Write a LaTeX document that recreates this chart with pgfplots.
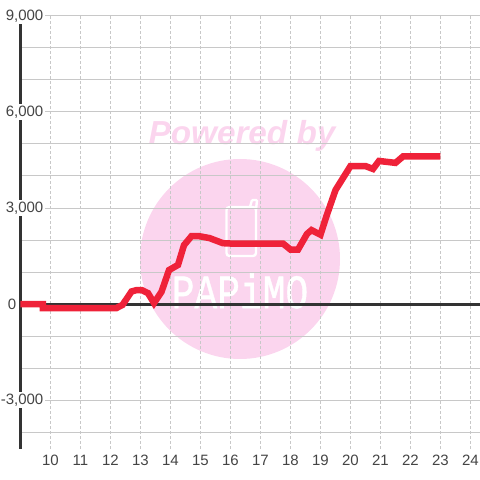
\documentclass[border=0pt]{standalone}
\usepackage{fontspec}
\setmainfont{Liberation Sans}
\newfontfamily\wmmono[FakeBold=1]{Liberation Mono}
\usepackage{pgfplots}
\pgfplotsset{compat=1.18}
\definecolor{wm}{HTML}{FBD5EE}
\definecolor{gridc}{HTML}{C8C8C8}
\definecolor{axc}{HTML}{333333}
\definecolor{labc}{HTML}{444444}
\definecolor{linec}{HTML}{EF2239}
\begin{document}
\begin{tikzpicture}
\path[use as bounding box] (0pt,0pt) rectangle (480pt,480pt);
\begin{scope}[x=1pt,y=1pt]
\fill[wm] (240,221) circle (100);
\node[text=wm,anchor=center,inner sep=0] at (242,344.5) {\fontsize{33.3}{33.3}\selectfont\bfseries\itshape Powered by};
\draw[white,line width=2.4pt,rounded corners=3pt] (226.5,273) rectangle (256,224);
\draw[white,line width=2.4pt,rounded corners=1pt] (250,273) -- (252,280) -- (257,280) -- (256,270);
\node[text=white,anchor=center,inner sep=0,xscale=0.79] at (240,189) {\wmmono\fontsize{48}{48}\selectfont PAPiMO};
\end{scope}
\begin{axis}[
  at={(20.5pt,31pt)},anchor=south west,
  scale only axis,width=459.5pt,height=433pt,
  xmin=9,xmax=24.3167,ymin=-4531,ymax=9000,
  clip=false,
  axis x line*=bottom,
  axis y line*=left,
  x axis line style={draw=none,-},
  y axis line style={axc,line width=3pt,-},
  xtick={10,...,24},
  ytick={-3000,0,3000,6000,9000},
  yticklabels={{-3,000},{},{3,000},{6,000},{9,000}},
  minor ytick={-4000,-2000,-1000,1000,2000,4000,5000,7000,8000},
  major tick length=0pt,minor tick length=0pt,
  xmajorgrids,ymajorgrids,yminorgrids,
  y grid style={gridc,line width=1pt},
  minor y grid style={gridc,line width=1pt},
  x grid style={gridc,line width=1pt,dash pattern=on 2.5pt off 2.5pt},
  /pgf/number format/assume math mode=true,
  xticklabel style={font=\fontsize{15}{15}\selectfont,text=labc,anchor=center,yshift=-11pt},
  yticklabel style={font=\fontsize{15}{15}\selectfont,text=labc,anchor=east,xshift=24.5pt,fill=white,inner xsep=1.5pt,inner ysep=0pt,minimum height=16pt},
]
\addplot[axc,line width=3pt,forget plot] coordinates {(9,0) (24.3167,0)};
\addplot[linec,line width=6.5pt,line cap=square,line join=miter,miter limit=4] coordinates {
(9,0) (9.75,0) (9.75,-125) (12.2,-125) (12.4,-30) (12.7,390) (12.85,430) (13.05,430) (13.25,340) (13.45,30)
(13.7,380) (13.95,1060) (14.25,1220) (14.45,1840) (14.7,2120) (14.95,2120) (15.3,2060) (15.75,1900)
(16,1890) (17,1890) (17.75,1890) (18,1700) (18.25,1700) (18.55,2190) (18.7,2310) (19,2165)
(19.2,2750) (19.5,3560) (20,4310) (20.5,4310) (20.75,4220) (20.95,4470) (21.5,4410) (21.75,4610) (23,4610)
};
\node[text=labc,anchor=east,inner sep=0pt,font=\fontsize{15}{15}\selectfont] at (axis cs:8.86,0) {0};
\end{axis}
\end{tikzpicture}
\end{document}
